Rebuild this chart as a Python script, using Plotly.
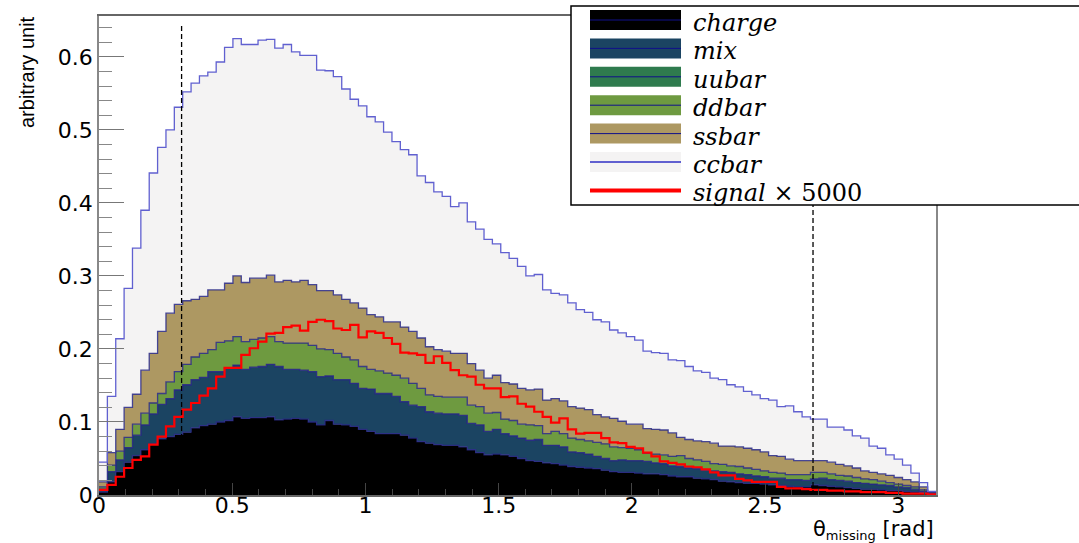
import numpy as np
import plotly.graph_objects as go

# ---------------- data ----------------
x_min, x_max, n_bins = 0.0, np.pi, 100

charge = [
    .004, .018, .032, .045, .054, .062, .070, .077, .080, .083,
    .086, .092, .095, .097, .100, .102, .107, .105, .106, .106,
    .107, .103, .104, .105, .104, .100, .096, .102, .097, .096,
    .094, .090, .087, .084, .084, .084, .082, .078, .073, .071,
    .069, .068, .068, .066, .062, .058, .055, .056, .055, .053,
    .050, .047, .046, .044, .043, .041, .039, .038, .037, .036,
    .034, .032, .031, .031, .030, .029, .029, .028, .026, .025,
    .025, .023, .022, .021, .019, .018, .017, .016, .016, .015,
    .014, .013, .012, .011, .011, .014, .013, .012, .011, .010,
    .009, .008, .008, .007, .006, .006, .005, .004, .003, .001]

mix = [
    .004, .014, .016, .020, .028, .034, .041, .047, .052, .061,
    .065, .066, .066, .072, .069, .072, .071, .067, .069, .070,
    .072, .073, .068, .067, .067, .069, .066, .061, .061, .062,
    .059, .056, .058, .055, .055, .051, .046, .045, .048, .043,
    .043, .043, .043, .043, .036, .038, .032, .034, .029, .028,
    .028, .028, .030, .024, .025, .025, .020, .020, .019, .017,
    .016, .015, .017, .016, .017, .017, .015, .015, .014, .014,
    .012, .013, .012, .012, .013, .013, .012, .012, .010, .010,
    .009, .010, .009, .010, .009, .008, .010, .009, .009, .009,
    .008, .008, .007, .007, .007, .005, .005, .004, .002, .001]

uubar = [
    0, 0, 0, 0, 0, 0, 0, 0, 0, 0,
    0, 0, 0, 0, 0, 0, 0, 0, 0, 0,
    0, 0, 0, 0, 0, 0, 0, 0, 0, 0,
    0, 0, 0, 0, 0, 0, 0, 0, 0, 0,
    0, 0, 0, 0, 0, 0, 0, 0, 0, 0,
    0, 0, 0, 0, 0, 0, 0, 0, 0, 0,
    0, 0, 0, 0, 0, 0, 0, 0, 0, 0,
    0, 0, 0, 0, 0, 0, 0, 0, 0, 0,
    0, 0, 0, 0, 0, 0, 0, 0, 0, 0,
    0, 0, 0, 0, 0, 0, 0, 0, 0, 0]

ddbar = [
    .003, .009, .012, .014, .015, .016, .015, .015, .023, .025,
    .028, .031, .033, .030, .040, .037, .039, .038, .038, .039,
    .038, .034, .036, .036, .037, .036, .038, .036, .036, .031,
    .032, .030, .027, .031, .028, .029, .032, .030, .025, .023,
    .023, .023, .023, .025, .025, .025, .025, .023, .020, .021,
    .019, .021, .019, .016, .019, .018, .019, .018, .018, .019,
    .020, .019, .017, .017, .015, .011, .012, .012, .013, .015,
    .013, .012, .012, .010, .010, .009, .010, .009, .009, .008,
    .008, .007, .007, .007, .008, .009, .008, .008, .007, .007,
    .007, .006, .006, .005, .004, .004, .003, .003, .002, .001]

ssbar = [
    .007, .017, .030, .041, .041, .059, .068, .085, .094, .092,
    .087, .079, .078, .082, .072, .079, .083, .081, .084, .082,
    .084, .082, .086, .084, .086, .083, .080, .081, .080, .079,
    .078, .080, .075, .074, .070, .073, .070, .071, .069, .066,
    .064, .063, .060, .060, .057, .050, .048, .051, .050, .050,
    .049, .048, .050, .046, .045, .045, .043, .043, .043, .038,
    .037, .039, .036, .033, .035, .034, .034, .034, .032, .025,
    .026, .026, .027, .028, .025, .027, .027, .027, .027, .026,
    .023, .023, .021, .019, .019, .016, .016, .016, .015, .014,
    .013, .011, .010, .010, .010, .009, .008, .007, .004, .001]

ccbar = [
    .027, .077, .124, .163, .200, .219, .247, .252, .251, .270,
    .286, .296, .302, .298, .312, .323, .325, .326, .320, .326,
    .323, .320, .323, .315, .308, .314, .302, .301, .299, .288,
    .279, .277, .271, .267, .260, .247, .243, .242, .222, .225,
    .216, .212, .201, .206, .194, .193, .190, .180, .178, .172,
    .167, .156, .157, .151, .144, .145, .142, .135, .133, .130,
    .130, .121, .121, .120, .115, .106, .105, .105, .100, .105,
    .100, .096, .095, .089, .091, .084, .082, .078, .075, .073,
    .076, .068, .073, .067, .060, .057, .057, .048, .051, .049,
    .044, .045, .036, .035, .028, .025, .020, .012, .006, .001]

signal_x5000 = [
    .007, .014, .025, .037, .048, .053, .069, .080, .094, .107,
    .117, .126, .136, .146, .162, .174, .174, .192, .201, .210,
    .221, .222, .230, .232, .225, .237, .240, .238, .228, .226,
    .233, .216, .224, .222, .215, .207, .195, .194, .192, .181,
    .190, .181, .171, .164, .162, .151, .146, .146, .134, .135,
    .125, .121, .114, .107, .099, .105, .090, .084, .085, .085,
    .078, .072, .071, .066, .064, .058, .053, .046, .044, .042,
    .039, .038, .035, .031, .027, .027, .022, .020, .018, .018,
    .018, .011, .009, .009, .008, .007, .007, .006, .006, .005,
    .005, .004, .004, .004, .003, .003, .002, .002, .002, .001]

cut_positions = [0.31, 2.68]
cut_top = 0.645

x_ticks = [0, 0.5, 1, 1.5, 2, 2.5, 3]
x_ticktext = ["0", "0.5", "1", "1.5", "2", "2.5", "3"]
y_ticks = [0, 0.1, 0.2, 0.3, 0.4, 0.5, 0.6]
y_ticktext = ["0", "0.1", "0.2", "0.3", "0.4", "0.5", "0.6"]
y_max = 0.656

legend_labels = ["<i>charge</i>", "<i>mix</i>", "<i>uubar</i>", "<i>ddbar</i>",
                 "<i>ssbar</i>", "<i>ccbar</i>", "<i>signal</i> × 5000"]

# ---------------- styles ----------------
W, H = 1079, 543
ML, MR, MT, MB = 99, 143, 16, 48
fill_colors = {"charge": "#000000", "mix": "#1b4462", "uubar": "#2f7b4e",
               "ddbar": "#6e9a40", "ssbar": "#ad9862", "ccbar": "#f4f3f3"}
edge_color = "rgba(40,40,135,0.85)"
cc_line = "#6060d0"

edges = np.linspace(x_min, x_max, n_bins + 1)


def step_y(v):
    return list(v) + [v[-1]]


def px2x(px):
    return (px - ML) / (W - ML - MR)


def py2y(py):
    return (H - MB - py) / (H - MT - MB)


fig = go.Figure()
for name, vals in [("charge", charge), ("mix", mix), ("uubar", uubar),
                   ("ddbar", ddbar), ("ssbar", ssbar), ("ccbar", ccbar)]:
    lc = cc_line if name == "ccbar" else edge_color
    fig.add_trace(go.Scatter(
        x=edges, y=step_y(vals), mode="lines",
        line=dict(shape="hv", color=lc, width=1.3),
        fillcolor=fill_colors[name], stackgroup="bkg",
        name=name, showlegend=False, hoverinfo="skip"))

fig.add_trace(go.Scatter(
    x=edges, y=step_y(signal_x5000), mode="lines",
    line=dict(shape="hv", color="#ff0000", width=2.2),
    name="signal", showlegend=False, hoverinfo="skip"))

for xc in cut_positions:
    fig.add_shape(type="line", xref="x", yref="y", x0=xc, x1=xc, y0=0, y1=cut_top,
                  line=dict(color="black", width=1.3, dash="5px,3px"))

# ---------------- legend (ROOT-style box) ----------------
fig.add_shape(type="rect", xref="paper", yref="paper",
              x0=px2x(571), x1=px2x(1095), y0=py2y(205), y1=py2y(6),
              line=dict(color="black", width=1.5), fillcolor="white", layer="above")
row_names = ["charge", "mix", "uubar", "ddbar", "ssbar", "ccbar", "signal"]
for i, (nm, lab) in enumerate(zip(row_names, legend_labels)):
    cy = 20 + 28.4 * i
    if nm != "signal":
        fig.add_shape(type="rect", xref="paper", yref="paper",
                      x0=px2x(590), x1=px2x(681), y0=py2y(cy + 10), y1=py2y(cy - 10),
                      line=dict(width=0), fillcolor=fill_colors[nm], layer="above")
        lcol = cc_line if nm == "ccbar" else "#10108a"
        lw = 2 if nm == "ccbar" else 1
        fig.add_shape(type="line", xref="paper", yref="paper",
                      x0=px2x(590), x1=px2x(681), y0=py2y(cy), y1=py2y(cy),
                      line=dict(color=lcol, width=lw), layer="above")
    else:
        fig.add_shape(type="line", xref="paper", yref="paper",
                      x0=px2x(590), x1=px2x(681), y0=py2y(cy), y1=py2y(cy),
                      line=dict(color="#ff0000", width=4), layer="above")
    fig.add_annotation(xref="paper", yref="paper", x=px2x(691), y=py2y(cy + 3),
                       xanchor="left", yanchor="middle", text=lab, showarrow=False,
                       font=dict(family="DejaVu Serif", size=24, color="black"))

# axis titles
fig.add_annotation(xref="paper", yref="paper", x=1.0, y=py2y(530),
                   xanchor="right", yanchor="middle", showarrow=False,
                   text="θ<sub><span style='font-size:13px'>missing</span></sub> [rad]",
                   font=dict(family="DejaVu Sans", size=21, color="black"))
fig.add_annotation(xref="paper", yref="paper", x=px2x(27), y=py2y(14),
                   xanchor="center", yanchor="top", showarrow=False, textangle=-90,
                   text="arbitrary unit",
                   font=dict(family="Liberation Sans", size=20, color="black"))

tick_font = dict(family="DejaVu Sans", size=22, color="black")
fig.update_xaxes(range=[x_min, x_max], tickvals=x_ticks, ticktext=x_ticktext,
                 ticks="inside", ticklen=12, tickcolor="#444", tickwidth=1,
                 minor=dict(dtick=0.1, ticks="inside", ticklen=6, tickcolor="#444"),
                 showline=True, linecolor="#666", linewidth=1.5, mirror=True,
                 showgrid=False, zeroline=False, tickfont=tick_font,
                 ticklabelstandoff=-10)
fig.update_yaxes(range=[0, y_max], tickvals=y_ticks, ticktext=y_ticktext,
                 ticks="inside", ticklen=25, tickcolor="#777", tickwidth=1.2,
                 minor=dict(dtick=0.02, ticks="inside", ticklen=13, tickcolor="#888"),
                 showline=True, linecolor="#888", linewidth=1.5, mirror=True,
                 showgrid=False, zeroline=False, tickfont=tick_font)

fig.update_layout(width=W, height=H, margin=dict(l=ML, r=MR, t=MT, b=MB),
                  paper_bgcolor="white", plot_bgcolor="white", showlegend=False)

fig.write_html("out.html")
